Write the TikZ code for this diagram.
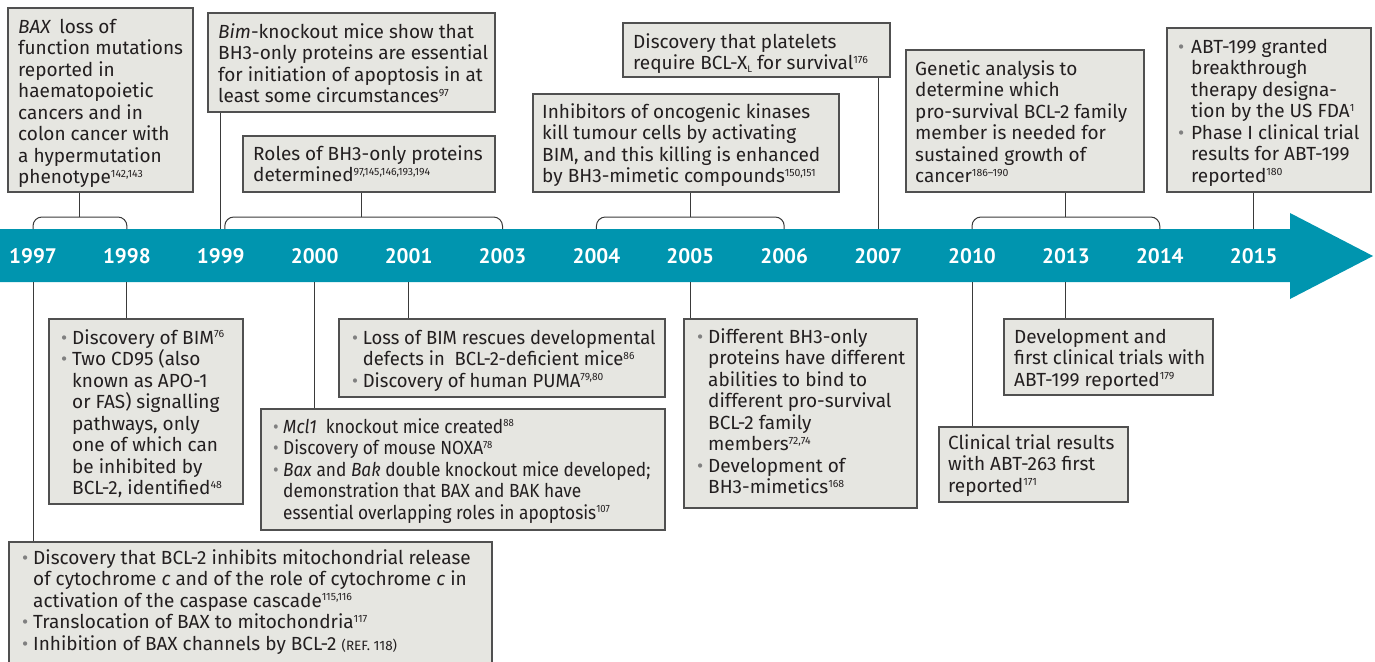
\documentclass[tikz,border=0pt]{standalone}
\usepackage{fontspec}
\setmainfont{Fira Sans}
\newfontfamily\yearfamily{PT Sans}
\usetikzlibrary{fit,calc}
\definecolor{bandteal}{HTML}{0095AF}
\definecolor{boxfill}{HTML}{E6E6E1}
\definecolor{boxline}{HTML}{505050}
\definecolor{connline}{HTML}{3A3A3A}
\definecolor{ink}{HTML}{231F20}
\definecolor{bulgray}{HTML}{808080}
\newcommand\bodyfont{\fontsize{19}{21.5}\selectfont}
\newcommand\fl{\rule{0pt}{16pt}}
\newcommand\sups[1]{\raisebox{6.3pt}{\fontsize{10.5}{10.5}\selectfont #1}}
\newcommand\subl[1]{\raisebox{-2.5pt}{\fontsize{9.5}{9.5}\selectfont #1}}
\newcommand\bul[1][11pt]{\makebox[#1][l]{\textcolor{bulgray}{•}}}
\newcommand\ind[1][11pt]{\hspace*{#1}}
\tikzset{
  boxnode/.style={draw=boxline, fill=boxfill, line width=1.3pt, inner sep=0pt, rectangle},
  txt/.style={anchor=north west, inner sep=0pt, align=left, font=\bodyfont, text=ink},
  narrowtxt/.style={txt, xscale=0.91, transform shape},
  year/.style={text=white, font=\yearfamily\fontsize{21}{21}\selectfont\bfseries, inner sep=0pt},
  conn/.style={draw=connline, line width=1pt},
  brack/.style={conn, rounded corners=9pt}
}
\begin{document}
\begin{tikzpicture}[x=1pt,y=-1pt]
\useasboundingbox (0,0) rectangle (1375,661);
% band
\fill[bandteal] (0,229) -- (1290,229) -- (1290,213) -- (1373,256) -- (1290,299) -- (1290,282) -- (0,282) -- cycle;
\coordinate (bandtop) at (0,229);
\coordinate (bandbot) at (0,282);
\coordinate (brk) at (0,217);
% years
\node[year] (y1997) at (33,256) {1997};
\node[year] (y1998) at (126.9,256) {1998};
\node[year] (y1999) at (220.8,256) {1999};
\node[year] (y2000) at (314.7,256) {2000};
\node[year] (y2001) at (408.6,256) {2001};
\node[year] (y2003) at (502.5,256) {2003};
\node[year] (y2004) at (596.4,256) {2004};
\node[year] (y2005) at (690.3,256) {2005};
\node[year] (y2006) at (784.2,256) {2006};
\node[year] (y2007) at (878.1,256) {2007};
\node[year] (y2010) at (972,256) {2010};
\node[year] (y2013) at (1065.9,256) {2013};
\node[year] (y2014) at (1159.8,256) {2014};
\node[year] (y2015) at (1253.7,256) {2015};
% boxes top
\node[boxnode, fit={(8,8) (193,192)}] (A) {};
\node[boxnode, fit={(208,13) (495,112)}] (B) {};
\node[boxnode, fit={(243,136) (495,192)}] (C) {};
\node[boxnode, fit={(533,94) (839,192)}] (D) {};
\node[boxnode, fit={(623,23) (890,77)}] (E) {};
\node[boxnode, fit={(906,50) (1144,192)}] (F) {};
\node[boxnode, fit={(1167,28) (1371,192)}] (G) {};
% boxes bottom
\node[boxnode, fit={(49,319) (243,504)}] (K) {};
\node[boxnode, fit={(339,319) (665,397)}] (L) {};
\node[boxnode, fit={(261,409) (665,530)}] (M) {};
\node[boxnode, fit={(9,542) (492,668)}] (N) {};
\node[boxnode, fit={(684,319) (917,508)}] (H) {};
\node[boxnode, fit={(1004,319) (1213,395)}] (I) {};
\node[boxnode, fit={(939,427) (1128,502)}] (J) {};
% brackets and connectors above
\coordinate (m1) at ($(y1997 |- brk)!0.5!(y1998 |- brk)$);
\draw[brack] (y1997 |- bandtop) -- (y1997 |- brk) -- (y1998 |- brk) -- (y1998 |- bandtop);
\draw[conn] (m1) -- (m1 |- A.south);
\draw[conn] (y1999 |- bandtop) -- (y1999 |- B.south);
\coordinate (m2) at ($(y1999 |- brk)!0.5!(y2003 |- brk)$);
\draw[brack] (y1999 |- bandtop) ++(4,0) -- ++(0,-12) -- (y2003 |- brk) -- (y2003 |- bandtop);
\draw[conn] (m2) -- (m2 |- C.south);
\coordinate (m3) at ($(y2004 |- brk)!0.5!(y2006 |- brk)$);
\draw[brack] (y2004 |- bandtop) -- (y2004 |- brk) -- (y2006 |- brk) -- (y2006 |- bandtop);
\draw[conn] (m3) -- (m3 |- D.south);
\draw[conn] (y2007 |- bandtop) -- (y2007 |- E.south);
\coordinate (m4) at ($(y2010 |- brk)!0.5!(y2014 |- brk)$);
\draw[brack] (y2010 |- bandtop) -- (y2010 |- brk) -- (y2014 |- brk) -- (y2014 |- bandtop);
\draw[conn] (m4) -- (m4 |- F.south);
\draw[conn] (y2015 |- bandtop) -- (y2015 |- G.south);
% connectors below
\draw[conn] (y1997 |- bandbot) -- (y1997 |- N.north);
\draw[conn] (y1998 |- bandbot) -- (y1998 |- K.north);
\draw[conn] (y2000 |- bandbot) -- (y2000 |- M.north);
\draw[conn] (y2001 |- bandbot) -- (y2001 |- L.north);
\draw[conn] (y2005 |- bandbot) -- (y2005 |- H.north);
\draw[conn] (y2010 |- bandbot) -- (y2010 |- J.north);
\draw[conn] (y2013 |- bandbot) -- (y2013 |- I.north);
% texts top
\node[txt] (At) at (18,17) {\fl\textit{BAX}\,\ loss of\\ function mutations\\ reported in\\ haematopoietic\\ cancers and in\\ colon cancer with\\ a hypermutation\\ phenotype\sups{142,143}};
\node[txt] (Bt) at (218,22) {\fl\textit{Bim}-knockout mice show that\\ BH3-only proteins are essential\\ for initiation of apoptosis in at\\ least some circumstances\sups{97}};
\node[txt] (Ct) at (253,144) {\fl Roles of BH3-only proteins\\ determined\sups{97,145,146,193,194}};
\node[txt] (Dt) at (542,102) {\fl Inhibitors of oncogenic kinases\\ kill tumour cells by activating\\ BIM, and this killing is enhanced\\ by BH3-mimetic compounds\sups{150,151}};
\node[txt] (Et) at (633,32) {\fl Discovery that platelets\\ require BCL-X\subl{L} for survival\sups{176}};
\node[txt] (Ft) at (915,59) {\fl Genetic analysis to\\ determine which\\ pro-survival BCL-2 family\\ member is needed for\\ sustained growth of\\ cancer\sups{186–190}};
\node[txt] (Gt) at (1178,37) {\fl\bul[13pt]ABT-199 granted\\ \ind[13pt]breakthrough\\ \ind[13pt]therapy designa-\\ \ind[13pt]tion by the US FDA\sups{1}\\ \bul[13pt]Phase I clinical trial\\ \ind[13pt]results for ABT-199\\ \ind[13pt]reported\sups{180}};
% texts bottom
\node[txt] (Kt) at (61,328) {\fl\bul Discovery of BIM\sups{76}\\ \bul Two CD95 (also\\ \ind known as APO-1\\ \ind or FAS) signalling\\ \ind pathways, only\\ \ind one of which can\\ \ind be inhibited by\\ \ind BCL-2, identified\sups{48}};
\node[txt, xscale=0.97, transform shape] (Lt) at (352,328) {\fl\bul Loss of BIM rescues developmental\\ \ind defects in\ \ BCL-2-deficient mice\sups{86}\\ \bul Discovery of human PUMA\sups{79,80}};
\node[narrowtxt] (Mt) at (273,417) {\fl\bul\textit{Mcl1}\ \ knockout mice created\sups{88}\\ \bul Discovery of mouse NOXA\sups{78}\\ \bul\textit{Bax} and \textit{Bak} double knockout mice developed;\\ \ind demonstration that BAX and BAK have\\ \ind essential overlapping roles in apoptosis\sups{107}};
\node[txt] (Nt) at (22,548) {\fl\bul Discovery that BCL-2 inhibits mitochondrial release\\ \ind of cytochrome \textit{c} and of the role of cytochrome \textit{c} in\\ \ind activation of the caspase cascade\sups{115,116}\\ \bul Translocation of BAX to mitochondria\sups{117}\\ \bul Inhibition of BAX channels by BCL-2 {\fontsize{13.5}{13.5}\selectfont (REF. 118)}};
\node[txt] (Ht) at (697,327) {\fl\bul Different BH3-only\\ \ind proteins have different\\ \ind abilities to bind to\\ \ind different pro-survival\\ \ind BCL-2 family\\ \ind members\sups{72,74}\\ \bul Development of\\ \ind BH3-mimetics\sups{168}};
\node[txt] (It) at (1014,327) {\fl Development and\\ first clinical trials with\\ ABT-199 reported\sups{179}};
\node[txt] (Jt) at (948,433) {\fl Clinical trial results\\ with ABT-263 first\\ reported\sups{171}};
\end{tikzpicture}
\end{document}
